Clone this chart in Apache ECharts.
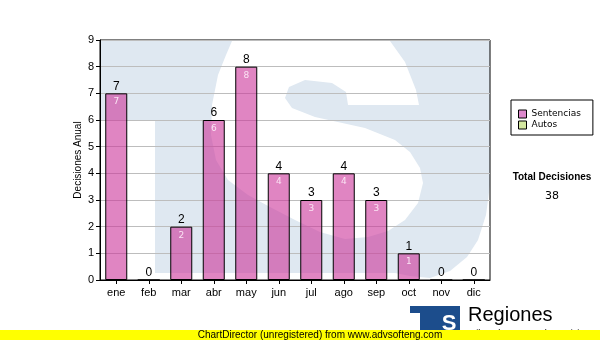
<!DOCTYPE html>
<html>
<head>
<meta charset="utf-8">
<script src="https://cdn.jsdelivr.net/npm/echarts@6/dist/echarts.min.js"></script>
<style>
html,body{margin:0;padding:0;background:#fff;}
#chart{width:600px;height:340px;}
</style>
</head>
<body>
<div id="chart"></div>
<script>
const categories = ['ene','feb','mar','abr','may','jun','jul','ago','sep','oct','nov','dic'];
const sentencias = [7,0,2,6,8,4,3,4,3,1,0,0];
const autos = [0,0,0,0,0,0,0,0,0,0,0,0];
const yMin = 0, yMax = 9, yInterval = 1;
const axisTitle = 'Decisiones Anual';
const totalLabel = 'Total Decisiones';

const total = sentencias.reduce((a,b)=>a+b,0) + autos.reduce((a,b)=>a+b,0);
const FONT = '"Liberation Sans", Arial, sans-serif';
const WM = '#dfe8f1';

const chart = echarts.init(document.getElementById('chart'), null, {renderer:'canvas'});

const wmBase = [[101,41],[490,41],[490,185],[486,215],[478,240],[467,257],[450,271],[430,278],[410,276],[395,273],[155,273],[155,120],[101,120]];
const wmS = [[232,41],[390,41],[405,62],[416,90],[419,105],[348,105],[346,92],[332,83],[305,80],[289,87],[285,98],[292,108],[315,117],[365,128],[395,140],[410,152],[420,168],[423,183],[418,203],[405,220],[388,231],[368,237],[345,239],[320,232],[295,220],[270,207],[248,195],[228,180],[216,160],[211,135],[212,105],[218,75],[226,55]];

const option = {
  animation: false,
  backgroundColor: '#fff',
  textStyle: {fontFamily: FONT},
  grid: {left:100, right:110, top:40, bottom:60, show:true, borderColor:'#000', borderWidth:1, backgroundColor:'transparent', containLabel:false},
  legend: {
    orient:'vertical', left:511, top:100,
    backgroundColor:'#fff', borderColor:'#000', borderWidth:1,
    padding:[9,12,5,7], itemGap:1, itemWidth:8, itemHeight:8,
    selectedMode:false,
    textStyle:{fontSize:9, color:'#000', fontFamily:'"DejaVu Sans", Tahoma, sans-serif', lineHeight:10},
    data:[
      {name:'Sentencias', icon:'rect', itemStyle:{color:'#dd88cc', borderColor:'#000', borderWidth:1}},
      {name:'Autos', icon:'rect', itemStyle:{color:'#d4e8a0', borderColor:'#000', borderWidth:1}}
    ]
  },
  xAxis: {
    type:'category', data:categories,
    axisLine:{show:true, lineStyle:{color:'#000', width:1}},
    axisTick:{show:true, alignWithLabel:true, length:4, lineStyle:{color:'#000'}},
    axisLabel:{fontSize:11, color:'#000', margin:7, fontFamily:FONT},
    splitLine:{show:false}
  },
  yAxis: {
    type:'value', min:yMin, max:yMax, interval:yInterval,
    name:axisTitle, nameLocation:'middle', nameGap:17, nameMoveOverlap:false,
    nameTextStyle:{fontSize:10, color:'#000', fontFamily:FONT},
    axisLine:{show:true, lineStyle:{color:'#000', width:1}},
    axisTick:{show:true, length:4, lineStyle:{color:'#000'}},
    axisLabel:{fontSize:11, color:'#000', margin:6, fontFamily:FONT},
    splitLine:{show:true, lineStyle:{color:'#bdbdbd', width:1}}
  },
  series: [
    {
      name:'Sentencias', type:'bar', data:sentencias, barWidth:22, barGap:'-100%',
      itemStyle:{color:'rgba(204,51,153,0.6)', borderColor:'#000', borderWidth:1},
      label:{show:true, position:'top', distance:1, fontSize:12, color:'#000', fontFamily:FONT},
      z:3
    },
    {
      name:'SentenciasIn', type:'bar', data:sentencias, barWidth:22, barGap:'-100%',
      itemStyle:{color:'rgba(0,0,0,0)'}, silent:true,
      label:{show:true, position:'insideTop', distance:4, fontSize:9, color:'#fbe4f4', fontFamily:'"DejaVu Sans", sans-serif',
        formatter:(p)=> p.value>0 ? String(p.value) : ''},
      z:4
    },
    {
      name:'Autos', type:'bar', data:autos, barWidth:22, barGap:'-100%',
      itemStyle:{color:'#d4e8a0', borderWidth:0}, z:2
    }
  ],
  graphic: [
    {type:'polygon', z:-10, silent:true, shape:{points:wmBase}, style:{fill:WM}},
    {type:'polygon', z:-9, silent:true, shape:{points:wmS}, style:{fill:'#fff'}},
    {type:'text', z:10, style:{x:552, y:177, text:totalLabel, textAlign:'center', textVerticalAlign:'middle', font:'bold 10px '+FONT, fill:'#000'}},
    {type:'text', z:10, style:{x:552, y:196, text:String(total), textAlign:'center', textVerticalAlign:'middle', font:'11px "DejaVu Sans", sans-serif', fill:'#000'}},
    // logo
    {type:'rect', z:10, shape:{x:410, y:306, width:50, height:7}, style:{fill:'#1c4d8c'}},
    {type:'rect', z:10, shape:{x:420, y:313, width:40, height:17}, style:{fill:'#1c4d8c'}},
    {type:'text', z:11, style:{x:449, y:324, text:'S', textAlign:'center', textVerticalAlign:'middle', font:'bold 22px '+FONT, fill:'#fff'}},
    {type:'text', z:10, style:{x:468, y:315, text:'Regiones', textAlign:'left', textVerticalAlign:'middle', font:'20px '+FONT, fill:'#000'}},
    {type:'text', z:10, style:{x:468, y:334, text:'Tribunal Supremo de Justicia', textAlign:'left', textVerticalAlign:'middle', font:'9px '+FONT, fill:'#000'}},
    // footer bar
    {type:'rect', z:20, shape:{x:0, y:330, width:600, height:10}, style:{fill:'#ffff00'}},
    {type:'text', z:21, style:{x:320, y:335, text:'ChartDirector (unregistered) from www.advsofteng.com', textAlign:'center', textVerticalAlign:'middle', font:'10px '+FONT, fill:'#000'}}
  ]
};
chart.setOption(option);
</script>
</body>
</html>
